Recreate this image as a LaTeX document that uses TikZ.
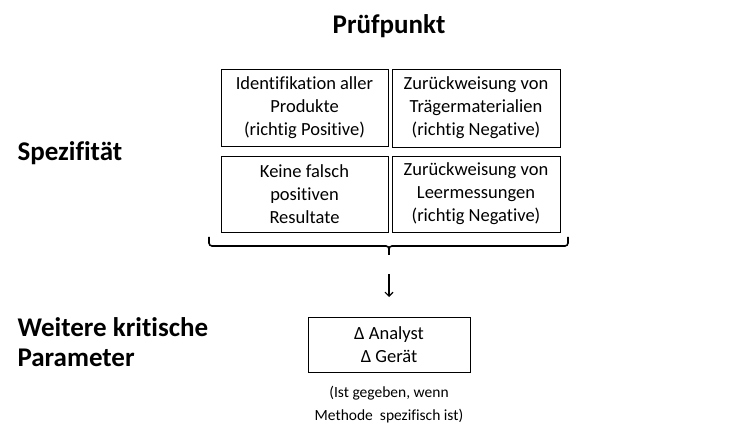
\documentclass[tikz,border=0pt]{standalone}
\usepackage{fontspec}
\setmainfont{Carlito}[Ligatures=NoCommon]
\usetikzlibrary{arrows.meta}
\usetikzlibrary{positioning}

\begin{document}
\begin{tikzpicture}[x=1pt,y=-1pt]
  \tikzset{kasten/.style = {shape=rectangle,draw,line width=0.9pt,align=center,font=\fontsize{18.5}{23}\selectfont}}
  \tikzset{titel/.style = {font=\fontsize{27}{30}\selectfont\bfseries}}
  \tikzset{klammer/.style = {line width=1.6pt,rounded corners=3pt}}
  \tikzset{pfeil/.style = {-{Straight Barb[length=4pt,width=8pt]},line width=1.1pt}}

  \useasboundingbox (0,0) rectangle (748,441);

	\node[titel] (T) at (389,26) {Prüfpunkt};
	\node[titel,anchor=west] (S) at (14,153) {Spezifität};
	\node[titel,anchor=west,align=left] (W) at (14,342) {Weitere kritische\\Parameter};

	\node[kasten,minimum width=167pt,minimum height=77pt] (K1) at (304.5,107.5) {Identifikation aller\\Produkte\\(richtig Positive)};
	\node[kasten,minimum width=168pt,minimum height=78pt] (K2) at (476,108) {Zurückweisung von\\Trägermaterialien\\(richtig Negative)};
	\node[kasten,minimum width=167pt,minimum height=76pt] (K3) at (304.5,194) {Keine falsch\\positiven\\Resultate};
	\node[kasten,minimum width=168pt,minimum height=76pt] (K4) at (476,194) {Zurückweisung von\\Leermessungen\\(richtig Negative)};

	\node[kasten,minimum width=162pt,minimum height=55pt] (P) at (389,344.5) {Δ Analyst\\Δ Gerät};
	\node[align=center,font=\fontsize{15.5}{23}\selectfont] (N) at (389,405) {(Ist gegeben, wenn\\Methode~ spezifisch ist)};

	\coordinate (KL) at (209,237);
	\coordinate (KR) at (568,237);
	\coordinate (KM) at (389,255);
	\coordinate (A1) at (389,274);
	\coordinate (A2) at (389,297);

    \draw[klammer] (KL) -- ++(0,9) -| (KM);
    \draw[klammer] (KR) -- ++(0,9) -| (KM);

    \foreach \from/\to in {A1/A2}
    \draw[pfeil](\from) -- (\to);

\end{tikzpicture}
\end{document}
